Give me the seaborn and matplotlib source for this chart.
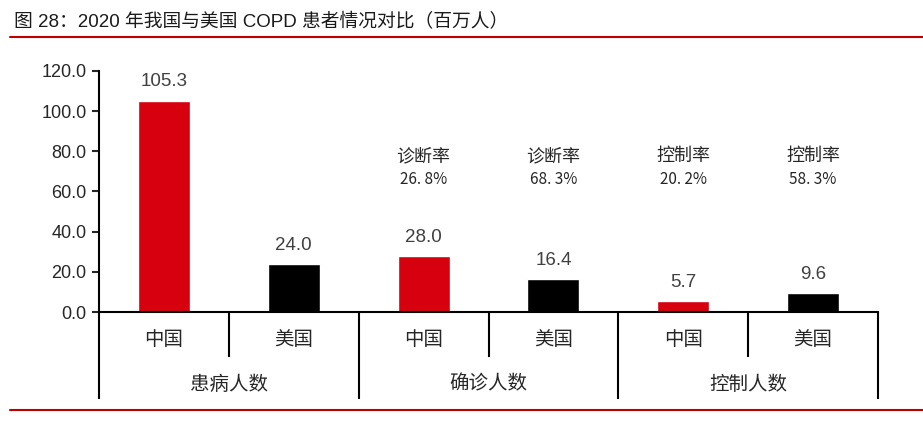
import pandas as pd
import matplotlib.pyplot as plt
import seaborn as sns

groups = ["患病人数", "确诊人数", "控制人数"]
countries = ["中国", "美国"]
values = [105.3, 24.0, 28.0, 16.4, 5.7, 9.6]
rate_names = ["", "", "诊断率", "诊断率", "控制率", "控制率"]
rate_values = ["", "", "26.8%", "68.3%", "20.2%", "58.3%"]

RED = "#D7000F"
BLACK = "#000000"
CJK = ["Noto Sans CJK SC", "DejaVu Sans"]

sns.set_style("white")
plt.rcParams["font.family"] = ["Liberation Sans", "Noto Sans CJK SC", "DejaVu Sans"]

rows = []
for i, g in enumerate(groups):
    for j, c in enumerate(countries):
        rows.append({"key": f"{g}-{c}", "group": g, "country": c,
                     "value": values[i * 2 + j]})
df = pd.DataFrame(rows)

fig = plt.figure(figsize=(9.23, 4.21), dpi=100)
ax = fig.add_axes([0.1073, 0.2589, 0.8440, 0.5725])

sns.barplot(data=df, x="key", y="value", hue="country", palette=[RED, BLACK],
            order=df["key"].tolist(), dodge=False, width=0.4, saturation=1,
            legend=False, ax=ax)

ax.set_ylim(0, 120)
ax.set_xlim(-0.5, len(df) - 0.5)
ax.set_yticks(range(0, 121, 20))
ax.set_yticklabels([f"{v:.1f}" for v in range(0, 121, 20)], fontsize=13)
ax.set_xticks([])
ax.set_xlabel("")
ax.set_ylabel("")
for s in ["top", "right"]:
    ax.spines[s].set_visible(False)
for s in ["left", "bottom"]:
    ax.spines[s].set_linewidth(1.5)
    ax.spines[s].set_color("black")
ax.tick_params(axis="y", direction="out", length=5, width=1.5, left=True, pad=4)

# value labels
for i, v in enumerate(df["value"]):
    ax.text(i, v + 5, f"{v:.1f}", ha="center", va="bottom", fontsize=13.5,
            color="#404040")

# rate annotations
for i, (n, r) in enumerate(zip(rate_names, rate_values)):
    if n:
        ax.text(i, 73, n, ha="center", va="bottom", fontsize=13, family=CJK)
        ax.text(i, 61.5, r.replace(".", ". "), ha="center", va="bottom",
                fontsize=11, family=CJK)

# category axis below
trans = ax.get_xaxis_transform()
for i, c in enumerate(df["country"]):
    ax.text(i, -0.115, c, transform=trans, ha="center", va="center",
            fontsize=14, family=CJK)
for gi, g in enumerate(groups):
    ax.text(gi * 2 + 0.5, -0.30, g, transform=trans, ha="center", va="center",
            fontsize=14, family=CJK)
for k in range(len(df) + 1):
    x = k - 0.5
    depth = -0.36 if k % 2 == 0 else -0.185
    ax.plot([x, x], [0, depth], transform=trans, color="black", lw=1.5,
            clip_on=False, solid_capstyle="butt")

# title and red rules
fig.text(0.0152, 0.947, "图 28：2020 年我国与美国 COPD 患者情况对比（百万人）",
         fontsize=13.5, ha="left", va="center", color="#1a1a1a")
fig.add_artist(plt.Line2D([0.011, 1.0], [0.912, 0.912], color="#C00000", lw=1.5))
fig.add_artist(plt.Line2D([0.011, 1.0], [0.026, 0.026], color="#C00000", lw=1.5))

fig.savefig("out.png", dpi=100)
